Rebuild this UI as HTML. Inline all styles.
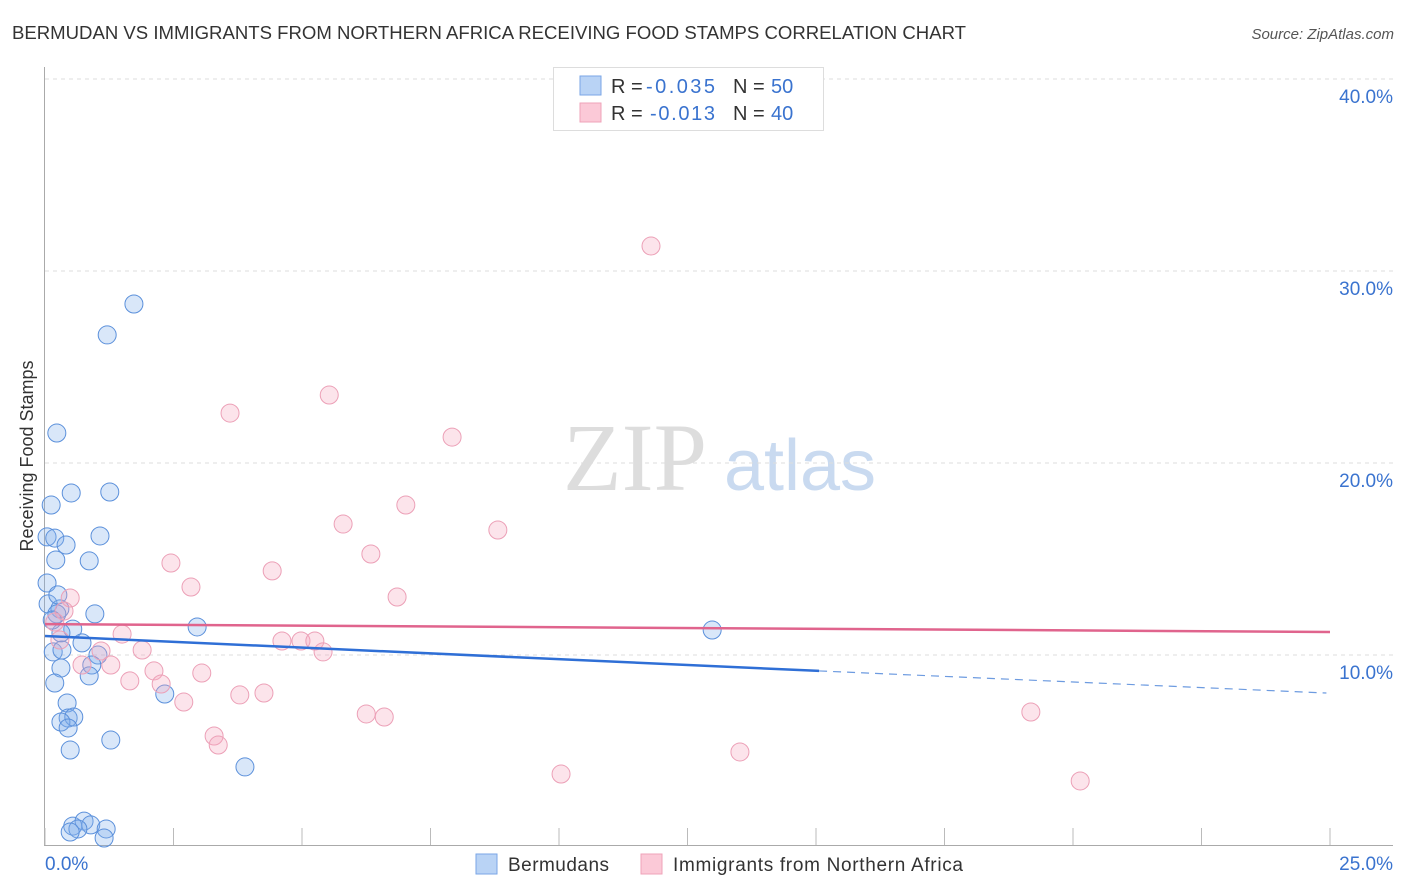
<!DOCTYPE html>
<html><head><meta charset="utf-8"><style>
body{margin:0;background:#fff;font-family:"Liberation Sans",sans-serif}
svg{display:block}
</style></head><body>
<svg id="chart" width="1406" height="892">
<text x="12" y="39" font-size="18" fill="#333" textLength="954" lengthAdjust="spacingAndGlyphs">BERMUDAN VS IMMIGRANTS FROM NORTHERN AFRICA RECEIVING FOOD STAMPS CORRELATION CHART</text>
<text x="1394" y="39" font-size="15" fill="#555" font-style="italic" text-anchor="end">Source: ZipAtlas.com</text>
<text x="33" y="456" font-size="18" fill="#333" text-anchor="middle" transform="rotate(-90 33 456)">Receiving Food Stamps</text>
<g>
<text x="635" y="490" font-size="96" font-family="Liberation Serif,serif" fill="#ddd" text-anchor="middle">ZIP</text>
<text x="800" y="490" font-size="72" fill="#c9daf0" text-anchor="middle">atlas</text>
</g>
<g id="grid"></g><g id="axes"></g><g id="pts"></g><g id="trends"></g>
<g>
<rect x="553.5" y="67.5" width="270" height="63" fill="#fff" stroke="#ddd"/>
<rect x="580" y="76" width="21" height="19" fill="#b9d3f5" stroke="#7aa6e6"/>
<rect x="580" y="103" width="21" height="19" fill="#fbc9d7" stroke="#efa3b9"/>
<text y="93" font-size="20" fill="#333"><tspan x="611">R = </tspan><tspan x="646" fill="#3a73cf" textLength="69">-0.035</tspan><tspan x="733">N = </tspan><tspan x="771" fill="#3a73cf">50</tspan></text>
<text y="120" font-size="20" fill="#333"><tspan x="611">R = </tspan><tspan x="650" fill="#3a73cf" textLength="65">-0.013</tspan><tspan x="733">N = </tspan><tspan x="771" fill="#3a73cf">40</tspan></text>
</g>
<g>
<rect x="476" y="854" width="21" height="20" fill="#b9d3f5" stroke="#7aa6e6"/>
<text x="508" y="871" font-size="19" fill="#333" textLength="101">Bermudans</text>
<rect x="641" y="854" width="21" height="20" fill="#fbc9d7" stroke="#efa3b9"/>
<text x="673" y="871" font-size="19" fill="#333" textLength="290">Immigrants from Northern Africa</text>
</g>
</svg>
<script>
const yTicks=[10,20,30,40];
const yTickLabels=["10.0%","20.0%","30.0%","40.0%"];
const xTickLabels=["0.0%","25.0%"];
const blueX=[1.73,1.21,0.23,0.51,1.26,0.12,0.04,0.19,1.07,0.41,0.21,0.86,0.04,0.06,0.29,0.23,0.97,0.54,0.31,0.72,1.03,0.16,0.91,0.31,0.86,0.19,2.96,12.98,2.33,0.43,0.45,0.56,0.31,0.45,0.49,1.28,3.89,0.54,0.76,0.89,0.64,0.49,1.19,1.15,0.14,0.25,0.33];
const blueY=[28.28,26.67,21.56,18.44,18.49,17.81,16.15,16.09,16.2,15.73,14.95,14.9,13.75,12.66,12.4,12.14,12.14,11.35,11.15,10.63,10.0,10.16,9.48,9.32,8.91,8.54,11.46,11.3,7.97,7.5,6.72,6.77,6.51,6.2,5.05,5.57,4.17,1.09,1.35,1.15,0.94,0.78,0.94,0.47,11.82,13.13,10.26];
const pinkX=[11.79,5.53,3.6,7.92,7.02,5.8,8.81,6.34,2.45,4.42,2.84,6.85,0.49,0.37,1.5,0.19,4.61,4.98,5.25,5.41,1.89,1.09,1.28,0.72,2.12,3.05,1.65,2.26,4.26,3.79,2.7,6.25,6.6,3.29,3.37,13.52,10.04,19.18,20.14,0.29];
const pinkY=[31.3,23.54,22.6,21.35,17.81,16.82,16.51,15.26,14.79,14.38,13.54,13.02,12.97,12.29,11.09,11.72,10.73,10.73,10.73,10.16,10.26,10.21,9.48,9.48,9.17,9.06,8.65,8.49,8.02,7.92,7.55,6.93,6.77,5.78,5.31,4.95,3.8,7.03,3.44,10.78];
const blueTrend=[[0,10.99],[15.06,9.17],[24.93,8.02]];
const pinkTrend=[[0,11.61],[25,11.2]];
const X=v=>45+v*51.4, Y=v=>847-v*19.2;
const NS="http://www.w3.org/2000/svg";
function mk(t,a,p){const e=document.createElementNS(NS,t);for(const k in a)e.setAttribute(k,a[k]);p.appendChild(e);return e;}
const grid=document.getElementById('grid'),axes=document.getElementById('axes');
yTicks.forEach((t,i)=>{
 const l=mk('line',{x1:45,x2:1393,y1:Y(t),y2:Y(t),stroke:'#ddd','stroke-dasharray':'4,4'},grid);
 
 
 const tx=mk('text',{x:1393,y:Y(t)+24,'font-size':19,fill:'#3a73cf','text-anchor':'end'},axes);
 tx.textContent=yTickLabels[i];
 
 
});
const la=mk('line',{x1:44.5,x2:44.5,y1:67,y2:845,stroke:'#aaa'},axes);


const lb=mk('line',{x1:44,x2:1393,y1:845.5,y2:845.5,stroke:'#aaa'},axes);


for(let i=0;i<=10;i++){
 const tk=mk('line',{x1:X(i*2.5),x2:X(i*2.5),y1:828,y2:845,stroke:'#bbb'},axes);
 
 
}
[[0,'start',45],[25,'end',1393]].forEach((d,i)=>{
 const tx=mk('text',{x:d[2],y:870,'font-size':19,fill:'#3a73cf','text-anchor':d[1]},axes);
 tx.textContent=xTickLabels[i];
 
 
});
const pts=document.getElementById('pts');
blueX.forEach((x,i)=>{
 const c=mk('circle',{cx:X(x),cy:Y(blueY[i]),r:9,fill:'rgba(130,175,235,0.3)',stroke:'#5b90db','stroke-width':1},pts);
 
 
});
pinkX.forEach((x,i)=>{
 const c=mk('circle',{cx:X(x),cy:Y(pinkY[i]),r:9,fill:'rgba(245,165,190,0.3)',stroke:'#eca0b7','stroke-width':1},pts);
 
 
});
const tr=document.getElementById('trends');
const b1=mk('line',{x1:X(blueTrend[0][0]),y1:Y(blueTrend[0][1]),x2:X(blueTrend[1][0]),y2:Y(blueTrend[1][1]),stroke:'#2f6fd6','stroke-width':2.5},tr);


const b2=mk('line',{x1:X(blueTrend[1][0]),y1:Y(blueTrend[1][1]),x2:X(blueTrend[2][0]),y2:Y(blueTrend[2][1]),stroke:'#6d9be0','stroke-width':1.2,'stroke-dasharray':'8,6'},tr);


const p1=mk('line',{x1:X(pinkTrend[0][0]),y1:Y(pinkTrend[0][1]),x2:X(pinkTrend[1][0]),y2:Y(pinkTrend[1][1]),stroke:'#e0648d','stroke-width':2.5},tr);


</script>
</body></html>
